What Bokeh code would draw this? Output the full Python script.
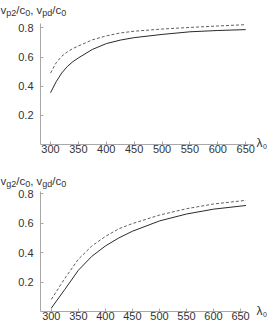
from bokeh.plotting import figure
from bokeh.models import FixedTicker, Label, Range1d
from bokeh.layouts import column
from bokeh.embed import file_html
from bokeh.resources import INLINE

# ---- data ----
lam_top = [300, 310, 320, 330, 340, 350, 375, 400, 425, 450, 500, 550, 600, 650]
vp2 = [0.355, 0.43, 0.49, 0.535, 0.568, 0.594, 0.652, 0.692, 0.716, 0.733, 0.755, 0.773, 0.782, 0.788]
vpd = [0.49, 0.56, 0.605, 0.635, 0.658, 0.676, 0.718, 0.745, 0.765, 0.777, 0.792, 0.803, 0.813, 0.822]

lam_bot = [300, 325, 350, 375, 400, 425, 450, 500, 550, 600, 660]
vg2 = [0.023, 0.15, 0.28, 0.375, 0.445, 0.50, 0.545, 0.615, 0.662, 0.695, 0.72]
vgd = [0.082, 0.225, 0.355, 0.445, 0.51, 0.562, 0.597, 0.655, 0.698, 0.73, 0.755]

x_ticks = [300, 350, 400, 450, 500, 550, 600, 650]
y_ticks = [0.2, 0.4, 0.6, 0.8]

top_label = [("v", "main"), ("p2", "sub"), ("/c", "main"), ("0", "sub"),
             (", v", "main"), ("pd", "sub"), ("/c", "main"), ("0", "sub")]
bot_label = [("v", "main"), ("g2", "sub"), ("/c", "main"), ("0", "sub"),
             (", v", "main"), ("gd", "sub"), ("/c", "main"), ("0", "sub")]

FONT = "Liberation Sans"
TEXT_COLOR = "#333333"
AXIS_COLOR = "#a8a8a8"
MAIN = 11.5
SUB = 9
CW = {"v": 0.5, "p": 0.556, "2": 0.556, "/": 0.278, "c": 0.5, "0": 0.556,
      ",": 0.278, " ": 0.278, "d": 0.556, "g": 0.556}


def panel(lam, solid, dashed, xr, yr, W, H, left, right, top, bottom,
          parts, label_x, label_base, lam_x, lam_base):
    # axes box (in figure pixels) -> extend ranges so the frame fills the figure
    fw = W - left - right
    fh = H - top - bottom
    sx = fw / (xr[1] - xr[0])
    sy = fh / (yr[1] - yr[0])
    x0 = xr[0] - left / sx
    x1 = xr[1] + right / sx
    y0 = yr[0] - bottom / sy
    y1 = yr[1] + top / sy

    p = figure(width=W, height=H, x_range=Range1d(x0, x1), y_range=Range1d(y0, y1),
               output_backend="svg", toolbar_location=None,
               min_border=0, min_border_left=0, min_border_right=0,
               min_border_top=0, min_border_bottom=0)
    p.outline_line_color = None
    p.grid.visible = False
    p.background_fill_color = "white"
    p.border_fill_color = "white"
    for ax in (p.xaxis, p.yaxis):
        ax.axis_line_color = AXIS_COLOR
        ax.major_tick_line_color = AXIS_COLOR
        ax.minor_tick_line_color = None
        ax.major_tick_in = 3
        ax.major_tick_out = 0
        ax.major_label_text_font = FONT
        ax.major_label_text_font_size = "11px"
        ax.major_label_text_color = TEXT_COLOR
    p.xaxis.ticker = FixedTicker(ticks=x_ticks)
    p.yaxis.ticker = FixedTicker(ticks=y_ticks)
    p.xaxis.fixed_location = yr[0]
    p.yaxis.fixed_location = xr[0]
    p.xaxis.bounds = xr
    p.yaxis.bounds = yr
    p.xaxis.major_label_standoff = 0
    p.yaxis.major_label_standoff = 7

    p.line(lam, solid, line_color="#2a2a2a", line_width=1.0)
    p.line(lam, dashed, line_color="#606060", line_width=1.0, line_dash="3 2")

    def xd(fx):
        return x0 + fx / sx

    def yd(fy):
        return y1 - fy / sy

    # y label made of pieces with subscripts
    x = label_x
    for txt, kind in parts:
        size = MAIN if kind == "main" else SUB
        base = label_base if kind == "main" else label_base + 3
        p.add_layout(Label(x=xd(x), y=yd(base), text=txt, text_font=FONT,
                           text_font_size=f"{size}px", text_color=TEXT_COLOR,
                           text_baseline="alphabetic", text_align="left"))
        x += sum(CW.get(ch, 0.5) for ch in txt) * size

    # x label lambda_0
    p.add_layout(Label(x=xd(lam_x), y=yd(lam_base), text="λ", text_font=FONT,
                       text_font_size="12px", text_color=TEXT_COLOR,
                       text_baseline="alphabetic", text_align="left"))
    p.add_layout(Label(x=xd(lam_x + 6.5), y=yd(lam_base + 3), text="0", text_font=FONT,
                       text_font_size="7px", text_color=TEXT_COLOR,
                       text_baseline="alphabetic", text_align="left"))
    return p


p1 = panel(lam_top, vp2, vpd, (282, 664), (0, 0.83), 269, 160, 40, 16, 23, 16,
           top_label, 0, 9, 256, 142.5)
p2 = panel(lam_bot, vg2, vgd, (280, 661), (0, 0.815), 269, 165, 40, 23, 31, 14,
           bot_label, 0, 20.3, 256, 150.5)

layout = column(p1, p2, spacing=0)
open("out.html", "w").write(file_html(layout, INLINE))
